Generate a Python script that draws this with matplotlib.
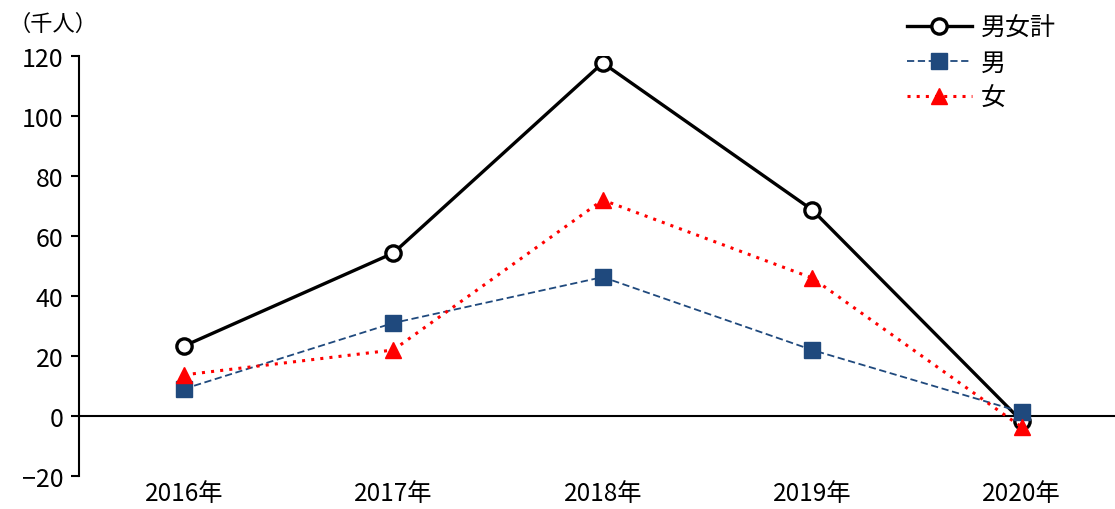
import numpy as np
import matplotlib.pyplot as plt

plt.rcParams['font.family'] = ['Noto Sans CJK JP', 'DejaVu Sans']

years = ['2016年', '2017年', '2018年', '2019年', '2020年']
total = [23.3, 54.3, 117.7, 68.7, -1.7]
male = [9.0, 31.0, 46.3, 22.0, 1.3]
female = [13.7, 22.0, 72.0, 46.0, -3.7]

W, H = 1115, 510
fig = plt.figure(figsize=(W / 100, H / 100), dpi=100)
ax = fig.add_axes([79 / W, 1 - 477 / H, (W - 79) / W, 420 / H])

x = np.arange(len(years))
ax.plot(x, total, color='black', lw=2.4, marker='o', ms=11,
        mfc='white', mec='black', mew=2.4, label='男女計', zorder=3)
ax.plot(x, male, color='#1F497D', lw=1.3, ls=(0, (4, 2)), marker='s', ms=11,
        mfc='#1F497D', mec='#1F497D', label='男', zorder=4)
ax.plot(x, female, color='red', lw=2.2, ls=(0, (1, 2)), marker='^', ms=12,
        mfc='red', mec='red', label='女', zorder=5)

ax.axhline(0, color='black', lw=1.5, zorder=2)

ax.set_xlim(-0.5, -0.5 + (W - 79) / 209.5)
ax.set_ylim(-20, 120)
ax.set_yticks(range(-20, 121, 20))
ax.set_yticklabels(['−20' if v < 0 else str(v) for v in range(-20, 121, 20)])
ax.set_xticks(x)
ax.set_xticklabels(years)

for s in ['top', 'right', 'bottom']:
    ax.spines[s].set_visible(False)
ax.spines['left'].set_linewidth(1.5)
ax.tick_params(axis='y', direction='out', length=6, width=1.5, labelsize=18, pad=5)
ax.tick_params(axis='x', length=0, labelsize=17.5, pad=3)

fig.text(8 / W, 1 - 24 / H, '（千人）', fontsize=16, va='center', ha='left')

ax.legend(loc='upper left', bbox_to_anchor=(897 / W, 1 - 6 / H),
          bbox_transform=fig.transFigure, frameon=False, fontsize=18,
          handlelength=2.6, labelspacing=0.35, handletextpad=0.35,
          borderaxespad=0)

fig.savefig('out.png', dpi=100)
